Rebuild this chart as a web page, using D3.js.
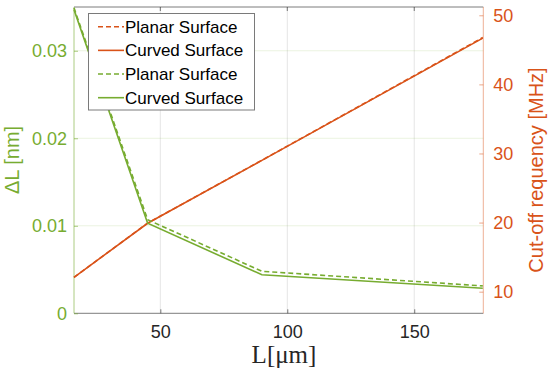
<!DOCTYPE html>
<html><head><meta charset="utf-8">
<script src="https://cdn.jsdelivr.net/npm/d3@7"></script>
<style>body{margin:0;background:#fff}svg{display:block}text{font-family:"Liberation Sans",Arial,sans-serif}</style>
</head><body>
<svg id="c" width="550" height="375"></svg>
<script>
const L = [16, 45, 90, 177];
const freqPlanar = [12.08, 19.92, 29.02, 46.78];
const freqCurved = [12.08, 19.9, 29.0, 46.7];
const dLPlanar = [0.0349, 0.0107, 0.0048, 0.00313];
const dLCurved = [0.0347, 0.0103, 0.0044, 0.00286];
const xTicks = [50, 100, 150];
const yLeftTicks = [0, 0.01, 0.02, 0.03];
const yLeftLabels = ["0", "0.01", "0.02", "0.03"];
const yRightTicks = [10, 20, 30, 40, 50];
const legendLabels = ["Planar Surface", "Curved Surface", "Planar Surface", "Curved Surface"];

const GREEN = "#77AC30", ORANGE = "#D95319", DARK = "#262626";
const svg = d3.select("#c");
const m = {l: 74, r: 483.3, t: 7, b: 313.3};
const x = d3.scaleLinear().domain([16, 177.2]).range([m.l, m.r]);
const yL = d3.scaleLinear().domain([0, 0.035]).range([m.b, m.t]);
const yR = d3.scaleLinear().domain([6.87, 51.2]).range([m.b, m.t]);

// grid
const g = svg.append("g");
g.selectAll(".vg").data(xTicks).join("line")
  .attr("x1", d => x(d)).attr("x2", d => x(d)).attr("y1", m.t).attr("y2", m.b)
  .attr("stroke", DARK).attr("stroke-opacity", 0.12).attr("stroke-width", 1);
g.selectAll(".hg").data(yLeftTicks.slice(1)).join("line")
  .attr("x1", m.l).attr("x2", m.r).attr("y1", d => yL(d)).attr("y2", d => yL(d))
  .attr("stroke", GREEN).attr("stroke-opacity", 0.15).attr("stroke-width", 1);

// axes lines
svg.append("line").attr("x1", m.l).attr("x2", m.r).attr("y1", m.b).attr("y2", m.b).attr("stroke", DARK).attr("stroke-opacity", 0.6);
svg.append("line").attr("x1", m.l).attr("x2", m.r).attr("y1", m.t).attr("y2", m.t).attr("stroke", DARK).attr("stroke-opacity", 0.6);
svg.append("line").attr("x1", m.l).attr("x2", m.l).attr("y1", m.t).attr("y2", m.b).attr("stroke", GREEN).attr("stroke-opacity", 0.6);
svg.append("line").attr("x1", m.r).attr("x2", m.r).attr("y1", m.t).attr("y2", m.b).attr("stroke", ORANGE).attr("stroke-opacity", 0.45);

// x axis ticks & labels
const xa = d3.axisBottom(x).tickValues(xTicks).tickSizeInner(-4).tickSizeOuter(0).tickPadding(12);
const gx = svg.append("g").attr("transform", `translate(0,${m.b})`).call(xa);
gx.select(".domain").remove();
gx.selectAll("line").attr("stroke", DARK).attr("stroke-opacity", 0.6);
gx.selectAll("text").attr("fill", DARK).style("font-size", "18px").style("font-family", '"Liberation Sans",Arial,sans-serif');
svg.selectAll(".tt").data(xTicks).join("line")
  .attr("x1", d => x(d)).attr("x2", d => x(d)).attr("y1", m.t).attr("y2", m.t + 4)
  .attr("stroke", DARK).attr("stroke-opacity", 0.6);

// left axis
const la = d3.axisLeft(yL).tickValues(yLeftTicks).tickFormat((d, i) => yLeftLabels[i]).tickSizeInner(-4).tickSizeOuter(0).tickPadding(7);
const gl = svg.append("g").attr("transform", `translate(${m.l},0)`).call(la);
gl.select(".domain").remove();
gl.selectAll("line").attr("stroke", GREEN).attr("stroke-opacity", 0.6);
gl.selectAll("text").attr("fill", GREEN).style("font-size", "18px").style("font-family", '"Liberation Sans",Arial,sans-serif');

// right axis
const ra = d3.axisRight(yR).tickValues(yRightTicks).tickSizeInner(-4).tickSizeOuter(0).tickPadding(10);
const gr = svg.append("g").attr("transform", `translate(${m.r},0)`).call(ra);
gr.select(".domain").remove();
gr.selectAll("line").attr("stroke", ORANGE).attr("stroke-opacity", 0.5);
gr.selectAll("text").attr("fill", ORANGE).style("font-size", "18px").style("font-family", '"Liberation Sans",Arial,sans-serif');

// lines
const lineL = d3.line().x((d, i) => x(L[i])).y(d => yL(d));
const lineR = d3.line().x((d, i) => x(L[i])).y(d => yR(d));
const plot = svg.append("g");
plot.append("path").datum(freqPlanar).attr("d", lineR).attr("fill", "none").attr("stroke", ORANGE).attr("stroke-width", 1.6).attr("stroke-dasharray", "5,3");
plot.append("path").datum(freqCurved).attr("d", lineR).attr("fill", "none").attr("stroke", ORANGE).attr("stroke-width", 1.6);
plot.append("path").datum(dLPlanar).attr("d", lineL).attr("fill", "none").attr("stroke", GREEN).attr("stroke-width", 1.6).attr("stroke-dasharray", "5,3");
plot.append("path").datum(dLCurved).attr("d", lineL).attr("fill", "none").attr("stroke", GREEN).attr("stroke-width", 1.6);

// axis labels
svg.append("text").attr("transform", "translate(19,160) rotate(-90)").attr("text-anchor", "middle")
  .attr("fill", GREEN).style("font-size", "20px").text("ΔL [nm]");
svg.append("text").attr("transform", "translate(543,170) rotate(-90)").attr("text-anchor", "middle")
  .attr("fill", ORANGE).style("font-size", "20px").text("Cut-off requency [MHz]");
svg.append("text").attr("x", 284).attr("y", 363).attr("text-anchor", "middle")
  .attr("fill", DARK).style("font-size", "25px").style("font-family", '"Liberation Serif","Times New Roman",serif').text("L[μm]");

// legend
const lg = svg.append("g");
lg.append("rect").attr("x", 88.5).attr("y", 13.5).attr("width", 166).attr("height", 96.5)
  .attr("fill", "#fff").attr("stroke", "#7a7a7a").attr("stroke-width", 1);
const legColors = [ORANGE, ORANGE, GREEN, GREEN];
const legDash = ["5,3", null, "5,3", null];
const rowY = d3.scaleLinear().domain([0, 3]).range([26.7, 97.7]);
legendLabels.forEach((lab, i) => {
  const yy = rowY(i);
  lg.append("line").attr("x1", 98).attr("x2", 124).attr("y1", yy).attr("y2", yy)
    .attr("stroke", legColors[i]).attr("stroke-width", 1.6).attr("stroke-dasharray", legDash[i]);
  lg.append("text").attr("x", 125).attr("y", yy).attr("dy", "0.35em").attr("fill", "#000")
    .style("font-size", "17px").text(lab);
});
</script>
</body></html>
